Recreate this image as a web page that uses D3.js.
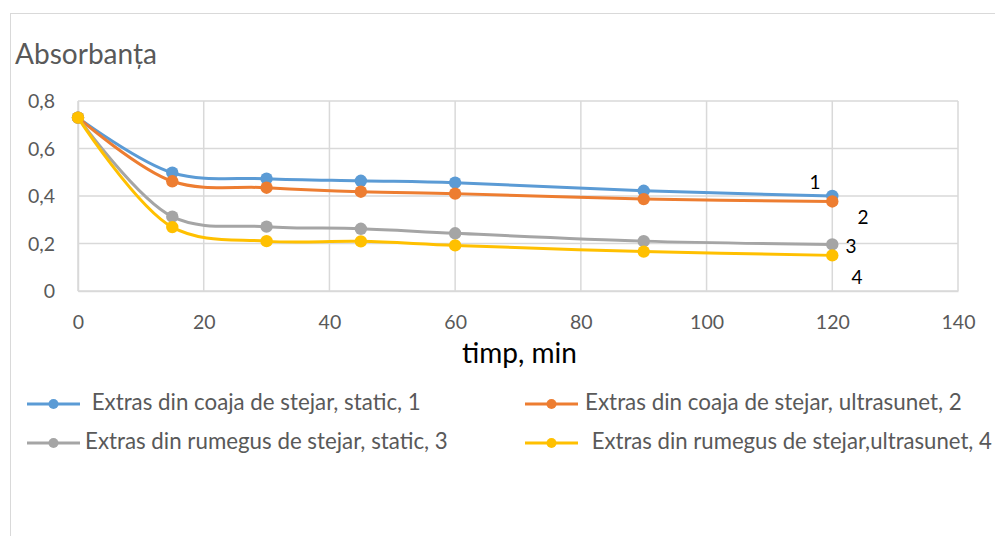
<!DOCTYPE html>
<html>
<head>
<meta charset="utf-8">
<script src="https://cdn.jsdelivr.net/npm/d3@7"></script>
<style>
html,body{margin:0;padding:0;background:#fff;}
svg{display:block;}
text{font-family:Lato,"Open Sans",sans-serif;}
</style>
</head>
<body>
<svg id="chart" width="995" height="536"></svg>
<script>
const times = [0, 15, 30, 45, 60, 90, 120];
const s1 = [0.73, 0.498, 0.473, 0.464, 0.456, 0.422, 0.400];
const s2 = [0.73, 0.462, 0.435, 0.418, 0.410, 0.387, 0.377];
const s3 = [0.73, 0.313, 0.271, 0.262, 0.243, 0.210, 0.196];
const s4 = [0.73, 0.269, 0.210, 0.209, 0.192, 0.166, 0.150];
const seriesNames = [
  " Extras din coaja de stejar, static, 1",
  "Extras din coaja de stejar, ultrasunet, 2",
  "Extras din rumegus de stejar, static, 3",
  " Extras din rumegus de stejar,ultrasunet, 4"
];
const seriesColors = ["#5b9bd5", "#ed7d31", "#a5a5a5", "#ffc000"];
const endLabels = ["1", "2", "3", "4"];
const xTicks = [0, 20, 40, 60, 80, 100, 120, 140];
const yTicks = [0, 0.2, 0.4, 0.6, 0.8];
const yTitle = "Absorbanța";
const xTitle = "timp, min";

const seriesData = [s1, s2, s3, s4];
const svg = d3.select("#chart");

// outer chart border
svg.append("rect").attr("x", 10.5).attr("y", 13.5).attr("width", 1100).attr("height", 700)
  .attr("fill", "none").attr("stroke", "#d9d9d9").attr("stroke-width", 1);

const x = d3.scaleLinear().domain([0, 140]).range([78, 958]);
const y = d3.scaleLinear().domain([0, 0.8]).range([291, 101]);

const grid = "#d9d9d9";
// gridlines
svg.append("g").selectAll("line").data(yTicks).join("line")
  .attr("x1", x(0)).attr("x2", x(140)).attr("y1", d => y(d)).attr("y2", d => y(d))
  .attr("stroke", grid).attr("stroke-width", 1.5);
svg.append("g").selectAll("line").data(xTicks).join("line")
  .attr("y1", y(0)).attr("y2", y(0.8)).attr("x1", d => x(d)).attr("x2", d => x(d))
  .attr("stroke", grid).attr("stroke-width", 1.5);

// axes
const xAxis = d3.axisBottom(x).tickValues(xTicks).tickSize(0).tickPadding(0).tickFormat(d3.format("d"));
const gx = svg.append("g").attr("transform", `translate(0,${y(0)})`).call(xAxis);
gx.select(".domain").attr("stroke", grid).attr("stroke-width", 1.5);
gx.selectAll("text").attr("y", 38).attr("dy", null).attr("font-size", 19.5).attr("fill", "#595959")
  .attr("font-family", "Lato");

const fmt = d => d === 0 ? "0" : d3.format(".1f")(d).replace(".", ",");
const yAxis = d3.axisLeft(y).tickValues(yTicks).tickSize(0).tickPadding(0).tickFormat(fmt);
const gy = svg.append("g").attr("transform", `translate(${x(0)},0)`).call(yAxis);
gy.select(".domain").attr("stroke", grid).attr("stroke-width", 1.5);
gy.selectAll("text").attr("x", -23).attr("dy", "0.35em").attr("font-size", 19.5).attr("fill", "#595959")
  .attr("font-family", "Lato");

// titles
function fitText(sel, width) {
  const node = sel.node();
  const fs = parseFloat(sel.attr("font-size"));
  const w = node.getComputedTextLength();
  sel.attr("font-size", (fs * width / w).toFixed(2));
}
const t1 = svg.append("text").attr("x", 15).attr("y", 64).attr("font-size", 24).attr("fill", "#595959").text(yTitle);
fitText(t1, 142);
const t2 = svg.append("text").attr("x", 519.5).attr("y", 363).attr("text-anchor", "middle")
  .attr("font-size", 22).attr("fill", "#000").text(xTitle);
fitText(t2, 115);

// lines
const line = d3.line().x((d, i) => x(times[i])).y(d => y(d)).curve(d3.curveCatmullRom.alpha(0.5));
seriesData.forEach((arr, k) => {
  const g = svg.append("g");
  g.append("path").attr("d", line(arr)).attr("fill", "none").attr("stroke", seriesColors[k])
    .attr("stroke-width", 3).attr("stroke-linejoin", "round").attr("stroke-linecap", "round");
  g.selectAll("circle").data(arr).join("circle")
    .attr("cx", (d, i) => x(times[i])).attr("cy", d => y(d)).attr("r", 6.2).attr("fill", seriesColors[k]);
});

// end labels
const labelPos = [[815, 189], [863, 224], [851, 253], [857, 284]];
endLabels.forEach((lab, k) => {
  svg.append("text").attr("x", labelPos[k][0]).attr("y", labelPos[k][1]).attr("text-anchor", "middle")
    .attr("font-size", 19).attr("fill", "#000").text(lab);
});

// legend
const legItems = [
  {lx: 27, ly: 404, tx: 86, w: 335},
  {lx: 525, ly: 404, tx: 585, w: 377},
  {lx: 27, ly: 443, tx: 85, w: 363},
  {lx: 525, ly: 443, tx: 586, w: 406}
];
legItems.forEach((it, k) => {
  const g = svg.append("g");
  g.append("line").attr("x1", it.lx).attr("x2", it.lx + 53).attr("y1", it.ly).attr("y2", it.ly)
    .attr("stroke", seriesColors[k]).attr("stroke-width", 3);
  g.append("circle").attr("cx", it.lx + 26.5).attr("cy", it.ly).attr("r", 5).attr("fill", seriesColors[k]);
  const t = g.append("text").attr("x", it.tx).attr("y", it.ly + 6).attr("font-size", 18)
    .attr("fill", "#595959").attr("xml:space", "preserve").style("white-space", "pre").text(seriesNames[k]);
  fitText(t, it.w);
});
</script>
</body>
</html>
